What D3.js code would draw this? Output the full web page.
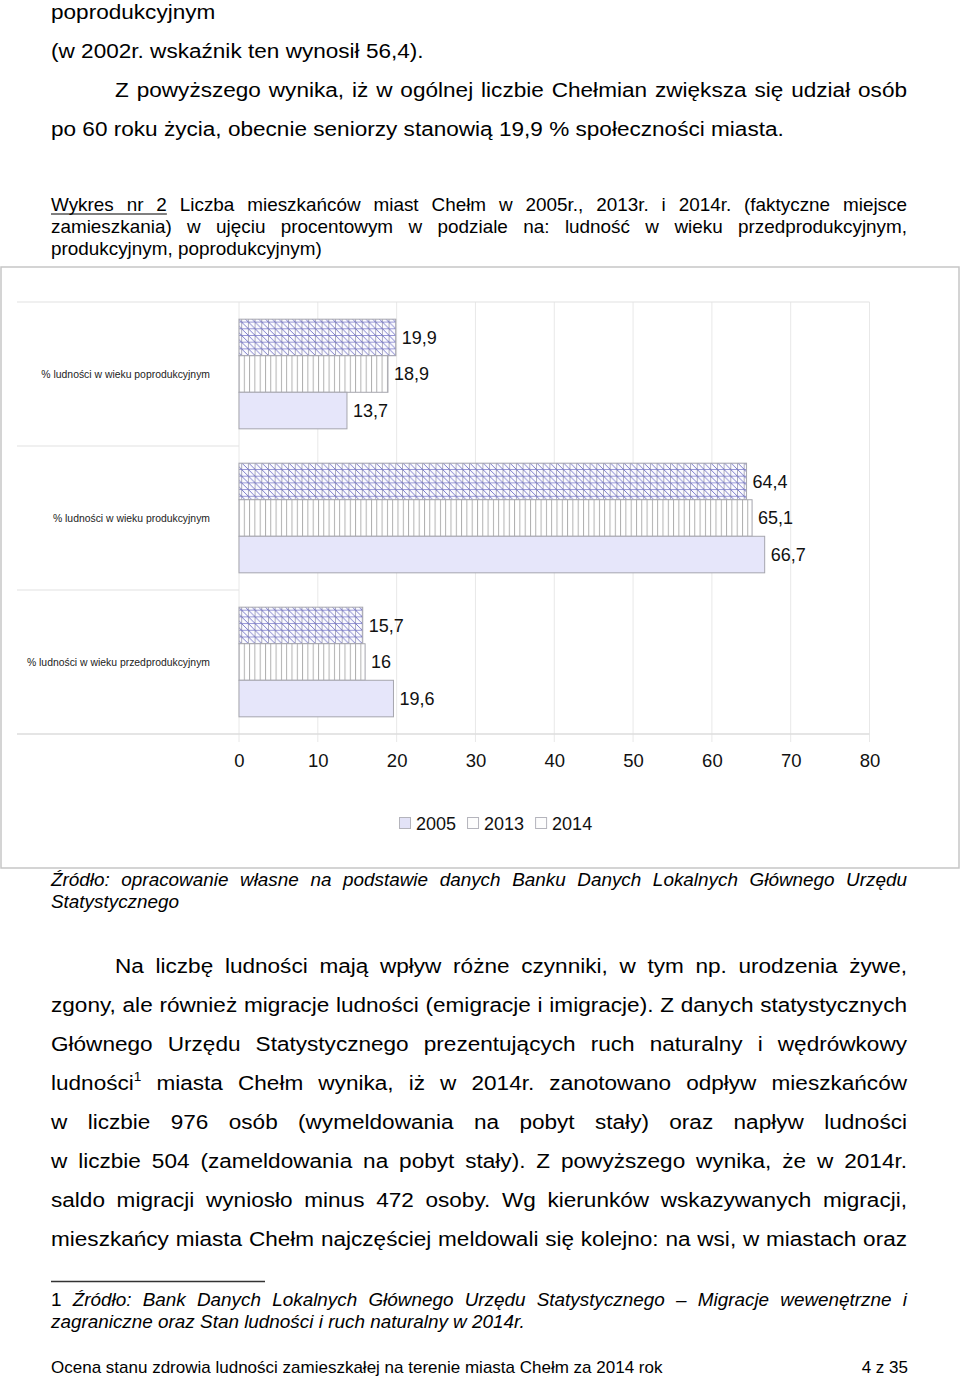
<!DOCTYPE html>
<html><head><meta charset="utf-8">
<script src="https://cdn.jsdelivr.net/npm/d3@7"></script>
<style>body{margin:0;background:#fff} svg{display:block}</style>
</head><body>
<svg id="page" width="960" height="1378"></svg>
<script>
// ---- data ----
const categories = ["% ludności w wieku poprodukcyjnym", "% ludności w wieku produkcyjnym", "% ludności w wieku przedprodukcyjnym"];
const seriesNames = ["2005", "2013", "2014"];
const barOrder = ["2014", "2013", "2005"];
const values2005 = [13.7, 66.7, 19.6];
const values2013 = [18.9, 65.1, 16];
const values2014 = [19.9, 64.4, 15.7];
const xTicks = [0, 10, 20, 30, 40, 50, 60, 70, 80];

const valuesBySeries = {"2005": values2005, "2013": values2013, "2014": values2014};

const svg = d3.select("#page");
const FONT = "'Liberation Sans', Arial, Helvetica, sans-serif";

// ---- text helper ----
function placeLine(text, x0, x1, y, opts) {
  const size = opts.size;
  const sx = opts.sx || 1;
  const g = svg.append("g")
    .attr("transform", `translate(${x0},0) scale(${sx},1)`)
    .attr("font-family", FONT).attr("font-size", size)
    .attr("font-style", opts.italic ? "italic" : "normal")
    .attr("fill", "#000");
  const words = text.split(" ");
  const nodes = words.map((w, i) => {
    const t = g.append("text").attr("y", y);
    if (opts.plain && opts.plain.includes(i)) t.attr("font-style", "normal");
    const parts = w.split("^");
    t.append("tspan").text(parts[0]);
    if (parts[1]) {
      t.append("tspan").text(parts[1]).attr("font-size", size * 0.6).attr("dy", -size * 0.42);
    }
    return t;
  });
  const widths = nodes.map(n => n.node().getComputedTextLength());
  const sum = d3.sum(widths);
  const avail = (x1 - x0) / sx;
  let gap = size * 0.278;
  if (opts.justify && words.length > 1) gap = Math.max(size * 0.15, (avail - sum) / (words.length - 1));
  let cx = 0;
  const pos = [];
  nodes.forEach((n, i) => {
    n.attr("x", cx);
    pos.push([x0 + cx * sx, x0 + (cx + widths[i]) * sx]);
    cx += widths[i] + gap;
  });
  return pos;
}

const BODY = {size: 21, sx: 1.075};
const SMALL = {size: 18, sx: 1.05};

// ---- top text ----
placeLine("poprodukcyjnym", 51, 908, 19, BODY);
placeLine("(w 2002r. wskaźnik ten wynosił 56,4).", 51, 908, 58, BODY);
placeLine("Z powyższego wynika, iż w ogólnej liczbie Chełmian zwiększa się udział osób", 115, 907, 97, {...BODY, justify: true});
placeLine("po 60 roku życia, obecnie seniorzy stanowią 19,9 % społeczności miasta.", 51, 908, 136, BODY);

const cap1 = placeLine("Wykres nr 2 Liczba mieszkańców miast Chełm w 2005r., 2013r. i 2014r. (faktyczne miejsce", 51, 907, 211.5, {...SMALL, justify: true});
svg.append("line").attr("x1", cap1[0][0]).attr("x2", cap1[2][1]).attr("y1", 214).attr("y2", 214)
  .attr("stroke", "#000").attr("stroke-width", 1);
placeLine("zamieszkania) w ujęciu procentowym w podziale na: ludność w wieku przedprodukcyjnym,", 51, 907, 233.5, {...SMALL, justify: true});
placeLine("produkcyjnym, poprodukcyjnym)", 51, 907, 255, SMALL);

// ---- chart ----
const defs = svg.append("defs");
const p14 = defs.append("pattern").attr("id", "hatch2014").attr("patternUnits", "userSpaceOnUse")
  .attr("width", 6.7).attr("height", 6.7);
p14.append("rect").attr("width", 6.7).attr("height", 6.7).attr("fill", "#fbfbff");
p14.append("line").attr("x1", 0.5).attr("x2", 0.5).attr("y1", 0).attr("y2", 6.7).attr("stroke", "#a0a0b4").attr("stroke-width", 0.9);
p14.append("line").attr("x1", 0).attr("x2", 6.7).attr("y1", 0.5).attr("y2", 0.5).attr("stroke", "#8c8cd0").attr("stroke-width", 0.9);
p14.append("line").attr("x1", 0).attr("x2", 6.7).attr("y1", 0).attr("y2", 6.7).attr("stroke", "#6f6fc4").attr("stroke-width", 0.9);
const p13 = defs.append("pattern").attr("id", "vert2013").attr("patternUnits", "userSpaceOnUse")
  .attr("width", 5.3).attr("height", 10);
p13.append("rect").attr("width", 5.3).attr("height", 10).attr("fill", "#ffffff");
p13.append("line").attr("x1", 0.5).attr("x2", 0.5).attr("y1", 0).attr("y2", 10).attr("stroke", "#a8a8a8").attr("stroke-width", 0.9);

const fills = {"2005": "#e6e6fa", "2013": "url(#vert2013)", "2014": "url(#hatch2014)"};
const legendFills = {"2005": "#e3e3f7", "2013": "#fdfdfd", "2014": "#fdfdfd"};

// outer frame
svg.append("rect").attr("x", 1).attr("y", 267).attr("width", 958).attr("height", 601)
  .attr("fill", "none").attr("stroke", "#c6c6c6").attr("stroke-width", 1.5);

const x = d3.scaleLinear().domain([0, 80]).range([239, 869.5]);
const y0 = d3.scaleBand().domain(categories).range([302, 734]);
const y1 = d3.scaleBand().domain(barOrder).range([0, y0.bandwidth()]).paddingOuter(0.47);

// gridlines
svg.append("g").selectAll("line").data(xTicks).join("line")
  .attr("x1", d => x(d)).attr("x2", d => x(d)).attr("y1", 302).attr("y2", 742)
  .attr("stroke", "#e8e8e8").attr("stroke-width", 1);

// frame lines of plot
svg.append("line").attr("x1", 17).attr("x2", x(80)).attr("y1", 302).attr("y2", 302).attr("stroke", "#e2e2e2").attr("stroke-width", 1.2);
svg.append("line").attr("x1", 17).attr("x2", x(80)).attr("y1", 734).attr("y2", 734).attr("stroke", "#dcdcdc").attr("stroke-width", 1.5);
svg.append("g").selectAll("line").data(categories.slice(1)).join("line")
  .attr("x1", 17).attr("x2", x(0)).attr("y1", d => y0(d)).attr("y2", d => y0(d))
  .attr("stroke", "#e2e2e2").attr("stroke-width", 1.2);

// bars
const barData = [];
categories.forEach((c, i) => barOrder.forEach(s => barData.push({c, s, v: valuesBySeries[s][i]})));
svg.append("g").selectAll("rect").data(barData).join("rect")
  .attr("x", x(0)).attr("y", d => y0(d.c) + y1(d.s))
  .attr("width", d => x(d.v) - x(0)).attr("height", y1.bandwidth())
  .attr("fill", d => fills[d.s]).attr("stroke", "#a6a6ae").attr("stroke-width", 1);

// value labels
svg.append("g").attr("font-family", FONT).attr("font-size", 18).attr("fill", "#111")
  .selectAll("text").data(barData).join("text")
  .attr("x", d => x(d.v) + 6).attr("y", d => y0(d.c) + y1(d.s) + y1.bandwidth() / 2)
  .attr("dy", "0.36em")
  .text(d => String(d.v).replace(".", ","));

// category labels
svg.append("g").attr("font-family", FONT).attr("font-size", 10.4).attr("fill", "#222")
  .selectAll("text").data(categories).join("text")
  .attr("x", 210).attr("y", d => y0(d) + y0.bandwidth() / 2 + 0.5)
  .attr("dy", "0.35em").attr("text-anchor", "end")
  .text(d => d);

// x axis
const axis = svg.append("g").attr("transform", "translate(0,734)")
  .call(d3.axisBottom(x).tickValues(xTicks).tickSize(0).tickPadding(20).tickFormat(d3.format("d")));
axis.select(".domain").remove();
axis.selectAll("text").attr("font-family", FONT).attr("font-size", 18.5).attr("fill", "#111");

// legend
const legend = svg.append("g").attr("font-family", FONT).attr("font-size", 18).attr("fill", "#111");
let lx = 399;
seriesNames.forEach(s => {
  legend.append("rect").attr("x", lx + 0.5).attr("y", 817.5).attr("width", 11).attr("height", 11)
    .attr("fill", legendFills[s]).attr("stroke", "#b4b4bc").attr("stroke-width", 1);
  const t = legend.append("text").attr("x", lx + 17).attr("y", 829.5).text(s);
  lx = lx + 17 + t.node().getComputedTextLength() + 11;
});

// ---- lower text ----
placeLine("Źródło: opracowanie własne na podstawie danych Banku Danych Lokalnych Głównego Urzędu", 51, 907, 886.5, {...SMALL, italic: true, justify: true});
placeLine("Statystycznego", 51, 907, 908, {...SMALL, italic: true});

const body = [
  ["Na liczbę ludności mają wpływ różne czynniki, w tym np. urodzenia żywe,", 115],
  ["zgony, ale również migracje ludności (emigracje i imigracje). Z danych statystycznych", 51],
  ["Głównego Urzędu Statystycznego prezentujących ruch naturalny i wędrówkowy", 51],
  ["ludności^1 miasta Chełm wynika, iż w 2014r. zanotowano odpływ mieszkańców", 51],
  ["w liczbie 976 osób (wymeldowania na pobyt stały) oraz napływ ludności", 51],
  ["w liczbie 504 (zameldowania na pobyt stały). Z powyższego wynika, że w 2014r.", 51],
  ["saldo migracji wyniosło minus 472 osoby. Wg kierunków wskazywanych migracji,", 51],
  ["mieszkańcy miasta Chełm najczęściej meldowali się kolejno: na wsi, w miastach oraz", 51]
];
body.forEach((l, i) => placeLine(l[0], l[1], 907, 973 + i * 39, {...BODY, justify: true}));

svg.append("line").attr("x1", 51).attr("x2", 265).attr("y1", 1281.5).attr("y2", 1281.5)
  .attr("stroke", "#333").attr("stroke-width", 1.3);
placeLine("1 Źródło: Bank Danych Lokalnych Głównego Urzędu Statystycznego – Migracje wewenętrzne i", 51, 907, 1306.5, {...SMALL, italic: true, justify: true, plain: [0]});
placeLine("zagraniczne oraz Stan ludności i ruch naturalny w 2014r.", 51, 907, 1328, {...SMALL, italic: true});

placeLine("Ocena stanu zdrowia ludności zamieszkałej na terenie miasta Chełm za 2014 rok", 51, 907, 1373, {size: 17});
svg.append("text").attr("x", 908).attr("y", 1373).attr("text-anchor", "end")
  .attr("font-family", FONT).attr("font-size", 17).attr("fill", "#000").text("4 z 35");
</script>
</body></html>
